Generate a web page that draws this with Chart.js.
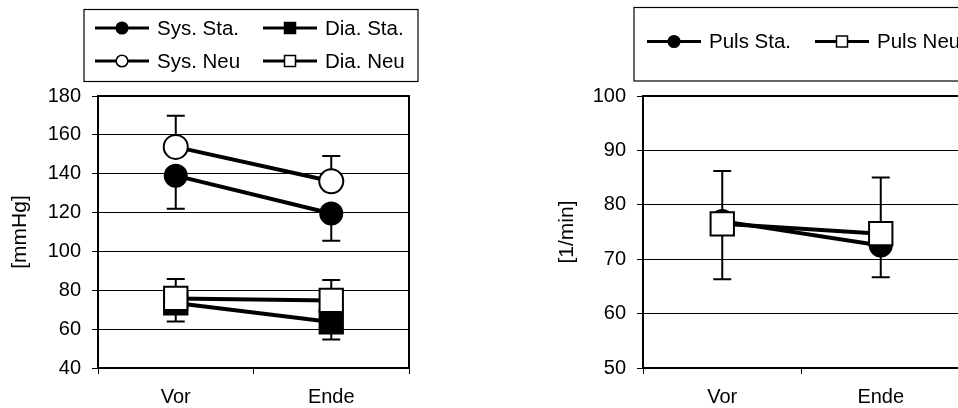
<!DOCTYPE html>
<html>
<head>
<meta charset="utf-8">
<script src="https://cdn.jsdelivr.net/npm/chart.js@4.4.1/dist/chart.umd.min.js"></script>
<style>
html, body { margin:0; padding:0; background:#fff; overflow:hidden; width:958px; height:408px; }
#links { position:absolute; left:0; top:0; }
#rechts { position:absolute; left:480px; top:0; }
</style>
</head>
<body>
<canvas id="links" width="480" height="408"></canvas>
<canvas id="rechts" width="500" height="408"></canvas>
<script>
// Messzeitpunkte
var zeitpunkte = ['Vor', 'Ende'];

// Blutdruck [mmHg], Mittelwerte
var sysSta = [139, 119.5];
var sysNeu = [153.8, 136.1];
var diaSta = [73.5, 63.7];
var diaNeu = [75.8, 74.8];
// Standardabweichung (Sta nach unten, Neu nach oben)
var sysStaSd = [17, 14];
var sysNeuSd = [16, 13];
var diaStaSd = [9.6, 9];
var diaNeuSd = [10, 10.5];

// Puls [1/min]
var pulsSta = [77, 72.5];
var pulsNeu = [76.5, 74.7];
var pulsStaSd = [10.7, 5.8];
var pulsNeuSd = [9.7, 10.3];

// Achsenbeschriftung
var druckTicks = [40, 60, 80, 100, 120, 140, 160, 180];
var pulsTicks = [50, 60, 70, 80, 90, 100];

var schrift = '"Liberation Sans", Arial, sans-serif';

// Fehlerbalken hinter den Punkten zeichnen
var fehlerbalken = {
  id: 'fehlerbalken',
  beforeDatasetsDraw: function(chart) {
    var ctx = chart.ctx, y = chart.scales.y;
    ctx.save();
    ctx.strokeStyle = '#000';
    ctx.lineWidth = 2;
    chart.data.datasets.forEach(function(ds, i) {
      var meta = chart.getDatasetMeta(i);
      meta.data.forEach(function(pt, j) {
        var ende = y.getPixelForValue(ds.data[j] + ds.richtung * ds.fehler[j]);
        ctx.beginPath();
        ctx.moveTo(pt.x, pt.y);
        ctx.lineTo(pt.x, ende);
        ctx.moveTo(pt.x - 9, ende);
        ctx.lineTo(pt.x + 9, ende);
        ctx.stroke();
      });
    });
    ctx.restore();
  }
};

// Rahmen um die Zeichenflaeche
var rahmen = {
  id: 'rahmen',
  afterDatasetsDraw: function(chart) {
    var a = chart.chartArea, ctx = chart.ctx;
    ctx.save();
    ctx.strokeStyle = '#000';
    ctx.lineWidth = 2;
    ctx.strokeRect(a.left, a.top, a.right - a.left, a.bottom - a.top);
    ctx.restore();
  }
};

// Legende im Kasten oben
var legendeKasten = {
  id: 'legendeKasten',
  afterDraw: function(chart, args, opts) {
    var ctx = chart.ctx;
    ctx.save();
    ctx.strokeStyle = '#000';
    ctx.lineWidth = 1.2;
    ctx.strokeRect(opts.kasten[0], opts.kasten[1], opts.kasten[2], opts.kasten[3]);
    ctx.font = '20.5px ' + schrift;
    ctx.textBaseline = 'middle';
    ctx.textAlign = 'left';
    opts.eintraege.forEach(function(e) {
      var ds = chart.data.datasets[e.index];
      var mx = e.x + 27;
      ctx.lineWidth = 3;
      ctx.strokeStyle = '#000';
      ctx.beginPath();
      ctx.moveTo(e.x, e.y);
      ctx.lineTo(e.x + 54, e.y);
      ctx.stroke();
      ctx.fillStyle = ds.pointBackgroundColor;
      ctx.lineWidth = 1.5;
      ctx.beginPath();
      if (ds.pointStyle === 'circle') {
        ctx.arc(mx, e.y, 5.8, 0, Math.PI * 2);
      } else {
        ctx.rect(mx - 5.5, e.y - 5.5, 11, 11);
      }
      ctx.fill();
      ctx.stroke();
      ctx.fillStyle = '#000';
      ctx.fillText(ds.label, e.x + 62, e.y + 1);
    });
    ctx.restore();
  }
};

function serie(label, werte, fehler, richtung, stil, fuellung, radius, ordnung) {
  return {
    label: label,
    data: werte,
    fehler: fehler,
    richtung: richtung,
    borderColor: '#000',
    borderWidth: 4,
    tension: 0,
    pointStyle: stil,
    pointRadius: radius,
    pointBackgroundColor: fuellung,
    pointBorderColor: '#000',
    pointBorderWidth: 2,
    order: ordnung
  };
}

function optionen(ticks, titel, ySchmal, titelAbstand, rechts, legende) {
  return {
    responsive: false,
    animation: false,
    events: [],
    layout: { padding: { top: 96, right: rechts, bottom: 0, left: 0 } },
    plugins: {
      legend: { display: false },
      tooltip: { enabled: false },
      legendeKasten: legende
    },
    scales: {
      x: {
        offset: true,
        afterFit: function(s) { s.height = 40; },
        grid: { offset: true, drawOnChartArea: false, color: '#000', tickLength: 6, lineWidth: 1 },
        border: { color: '#000', width: 2 },
        ticks: { color: '#000', padding: 11, font: { family: schrift, size: 20 } }
      },
      y: {
        min: ticks[0],
        max: ticks[ticks.length - 1],
        afterFit: function(s) { s.width = ySchmal; },
        afterBuildTicks: function(s) { s.ticks = ticks.map(function(v) { return { value: v }; }); },
        grid: { color: '#000', lineWidth: 1, tickLength: 6 },
        border: { color: '#000', width: 2 },
        ticks: { color: '#000', padding: 11, font: { family: schrift, size: 20 } },
        title: { display: true, text: titel, color: '#000', padding: { top: titelAbstand }, font: { family: schrift, size: 21 } }
      }
    }
  };
}

new Chart(document.getElementById('links'), {
  type: 'line',
  data: {
    labels: zeitpunkte,
    datasets: [
      serie('Sys. Sta.', sysSta, sysStaSd, -1, 'circle', '#000', 11, 1),
      serie('Dia. Sta.', diaSta, diaStaSd, -1, 'rect', '#000', 16.5, 1),
      serie('Sys. Neu', sysNeu, sysNeuSd, 1, 'circle', '#fff', 12, 0),
      serie('Dia. Neu', diaNeu, diaNeuSd, 1, 'rect', '#fff', 16.5, 0)
    ]
  },
  options: optionen(druckTicks, '[mmHg]', 98, 7.4, 71, {
    kasten: [84, 9.5, 334, 72],
    eintraege: [
      { index: 0, x: 95, y: 28 },
      { index: 1, x: 263, y: 28 },
      { index: 2, x: 95, y: 61 },
      { index: 3, x: 263, y: 61 }
    ]
  }),
  plugins: [fehlerbalken, rahmen, legendeKasten]
});

new Chart(document.getElementById('rechts'), {
  type: 'line',
  data: {
    labels: zeitpunkte,
    datasets: [
      serie('Puls Sta.', pulsSta, pulsStaSd, -1, 'circle', '#000', 11, 1),
      serie('Puls Neu', pulsNeu, pulsNeuSd, 1, 'rect', '#fff', 16.5, 0)
    ]
  },
  options: optionen(pulsTicks, '[1/min]', 163, 75, 20, {
    kasten: [154, 7.5, 400, 73.5],
    eintraege: [
      { index: 0, x: 167, y: 41.5 },
      { index: 1, x: 335, y: 41.5 }
    ]
  }),
  plugins: [fehlerbalken, rahmen, legendeKasten]
});
</script>
</body>
</html>
